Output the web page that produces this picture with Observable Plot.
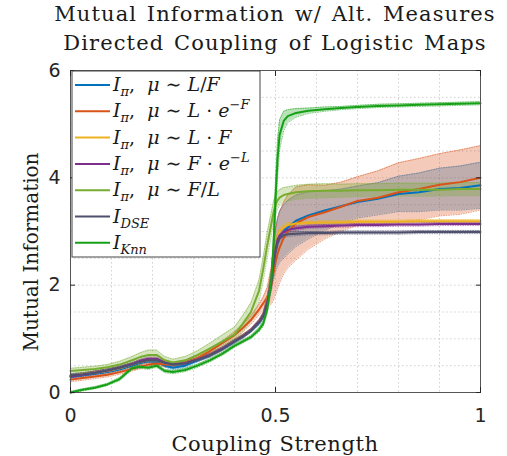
<!DOCTYPE html>
<html><head><meta charset="utf-8">
<script src="https://cdn.jsdelivr.net/npm/d3@7"></script>
<script src="https://cdn.jsdelivr.net/npm/@observablehq/plot@0.6"></script>
<style>
body{margin:0;background:#fff;width:507px;height:456px;overflow:hidden}
#title{height:58px;width:507px;box-sizing:border-box;padding-left:43px;text-align:center;font-family:"DejaVu Serif";font-size:21px;letter-spacing:1.1px;word-spacing:2px;line-height:29px;color:#1a1a1a;white-space:nowrap}
#chart svg{display:block}
</style></head><body>
<div id="title">Mutual Information w/ Alt. Measures<br>Directed Coupling of Logistic Maps</div>
<div id="chart"></div>
<script>
// ---- data ----
const X = [0, 0.03, 0.06, 0.09, 0.12, 0.15, 0.17, 0.19, 0.21, 0.23, 0.25, 0.28, 0.31, 0.34, 0.37, 0.40, 0.42, 0.44, 0.46, 0.47, 0.48, 0.49, 0.495, 0.50, 0.505, 0.51, 0.52, 0.53, 0.55, 0.58, 0.62, 0.66, 0.70, 0.75, 0.80, 0.85, 0.90, 0.95, 1.0];

const blueY = [0.29,0.32,0.35,0.38,0.43,0.50,0.55,0.58,0.57,0.50, 0.46,0.50,0.60,0.69,0.81,0.95,1.04,1.15,1.30,1.42, 1.70,2.10,2.40,2.65,2.80,2.90,3.00,3.08,3.20,3.30, 3.39,3.47,3.55,3.61,3.70,3.73,3.79,3.81,3.86];
const blueSd = [0.03,0.03,0.03,0.03,0.03,0.03,0.03,0.03,0.03,0.03, 0.03,0.03,0.03,0.03,0.03,0.03,0.03,0.03,0.04,0.05, 0.10,0.20,0.30,0.40,0.45,0.48,0.50,0.50,0.48,0.44, 0.37,0.32,0.30,0.30,0.33,0.36,0.39,0.41,0.43];

const orangeY = [0.24,0.27,0.30,0.33,0.38,0.44,0.48,0.52,0.54,0.52, 0.52,0.56,0.64,0.77,0.92,1.07,1.20,1.35,1.55,1.66, 1.78,2.00,2.22,2.42,2.58,2.70,2.88,3.00,3.15,3.27, 3.36,3.46,3.57,3.63,3.73,3.79,3.87,3.92,4.00];
const orangeSd = [0.04,0.04,0.04,0.04,0.04,0.04,0.04,0.04,0.04,0.04, 0.04,0.04,0.04,0.04,0.04,0.06,0.07,0.08,0.10,0.12, 0.18,0.35,0.50,0.60,0.65,0.66,0.67,0.68,0.68,0.60, 0.50,0.46,0.45,0.50,0.55,0.57,0.58,0.60,0.60];

const yellowY = [0.31,0.34,0.37,0.40,0.45,0.52,0.57,0.60,0.60,0.55, 0.53,0.55,0.62,0.70,0.82,0.96,1.05,1.16,1.32,1.44, 1.72,2.12,2.45,2.72,2.90,3.00,3.08,3.12,3.15,3.16, 3.17,3.17,3.18,3.18,3.18,3.19,3.19,3.19,3.19];
const purpleY = [0.30,0.33,0.37,0.41,0.46,0.53,0.59,0.63,0.63,0.56, 0.53,0.55,0.62,0.70,0.82,0.96,1.05,1.16,1.32,1.44, 1.70,2.10,2.40,2.68,2.85,2.93,2.99,3.03,3.06,3.09, 3.10,3.11,3.12,3.12,3.13,3.13,3.14,3.14,3.14];
const dseY = [0.32,0.34,0.37,0.41,0.46,0.52,0.57,0.60,0.60,0.55, 0.52,0.54,0.61,0.69,0.81,0.95,1.04,1.15,1.31,1.42, 1.66,2.05,2.38,2.62,2.78,2.87,2.93,2.95,2.96,2.97, 2.97,2.98,2.98,2.98,2.98,2.99,2.99,2.99,2.99];
const smallSd = [0.03,0.03,0.03,0.03,0.03,0.03,0.03,0.03,0.03,0.03, 0.03,0.03,0.03,0.03,0.03,0.03,0.03,0.03,0.04,0.05, 0.08,0.12,0.15,0.12,0.08,0.06,0.05,0.04,0.04,0.03, 0.03,0.03,0.03,0.03,0.03,0.03,0.03,0.03,0.03];

const flY = [0.40,0.42,0.44,0.47,0.52,0.60,0.66,0.70,0.70,0.60, 0.56,0.60,0.70,0.82,0.95,1.08,1.28,1.50,1.90,2.30, 2.75,3.15,3.35,3.50,3.58,3.63,3.68,3.70,3.73,3.75, 3.76,3.76,3.77,3.77,3.78,3.78,3.78,3.79,3.79];
const flSd = [0.05,0.05,0.05,0.05,0.06,0.07,0.08,0.09,0.09,0.07, 0.06,0.07,0.08,0.10,0.12,0.14,0.15,0.17,0.20,0.22, 0.24,0.22,0.20,0.18,0.16,0.15,0.14,0.13,0.13,0.13, 0.13,0.12,0.12,0.12,0.12,0.12,0.12,0.12,0.12];

const knnY = [0.00,0.05,0.09,0.15,0.25,0.45,0.48,0.46,0.50,0.40, 0.38,0.42,0.50,0.60,0.72,0.87,0.95,1.03,1.17,1.28, 1.55,2.10,2.70,3.60,4.35,4.80,5.06,5.15,5.21,5.25, 5.28,5.30,5.32,5.34,5.35,5.36,5.37,5.38,5.39];
const knnSd = [0.02,0.02,0.02,0.02,0.03,0.03,0.03,0.03,0.03,0.03, 0.03,0.03,0.03,0.03,0.03,0.03,0.03,0.03,0.04,0.05, 0.08,0.15,0.25,0.35,0.35,0.28,0.18,0.12,0.08,0.05, 0.04,0.03,0.03,0.03,0.03,0.03,0.03,0.03,0.03];

const xTicks = [0, 0.5, 1];
const yTicks = [0, 2, 4, 6];
const xGrid = [0.1, 0.2, 0.3, 0.4, 0.5, 0.6, 0.7, 0.8, 0.9];
const yGrid = [0.5, 1, 1.5, 2, 2.5, 3, 3.5, 4, 4.5, 5, 5.5];

const series = [
  {y: blueY,   sd: blueSd,   color: "#0072BD", label: [["I","i"],["π","sub"],[",  ",""],["μ","i"],[" ∼ ",""],["L","i"],["/",""],["F","i"]]},
  {y: orangeY, sd: orangeSd, color: "#D95319", label: [["I","i"],["π","sub"],[",  ",""],["μ","i"],[" ∼ ",""],["L","i"],[" · ",""],["e","i"],["−F","sup"]]},
  {y: yellowY, sd: smallSd,  color: "#EDB120", label: [["I","i"],["π","sub"],[",  ",""],["μ","i"],[" ∼ ",""],["L","i"],[" · ",""],["F","i"]]},
  {y: purpleY, sd: smallSd,  color: "#7E2F8E", label: [["I","i"],["π","sub"],[",  ",""],["μ","i"],[" ∼ ",""],["F","i"],[" · ",""],["e","i"],["−L","sup"]]},
  {y: flY,     sd: flSd,     color: "#77AC30", label: [["I","i"],["π","sub"],[",  ",""],["μ","i"],[" ∼ ",""],["F","i"],["/",""],["L","i"]]},
  {y: dseY,    sd: smallSd,  color: "#4F4F6E", label: [["I","i"],["DSE","sub"]]},
  {y: knnY,    sd: knnSd,    color: "#16A016", label: [["I","i"],["Knn","sub"]]}
];

const rowsOf = s => X.map((x, i) => ({x, y: s.y[i], lo: s.y[i] - s.sd[i], hi: s.y[i] + s.sd[i]}));

const marks = [
  Plot.ruleX(xGrid, {stroke: "#cfcfcf", strokeDasharray: "1.5,2.5"}),
  Plot.ruleY(yGrid, {stroke: "#cfcfcf", strokeDasharray: "1.5,2.5"})
];
for (const s of series) {
  const r = rowsOf(s);
  marks.push(Plot.areaY(r, {x: "x", y1: "lo", y2: "hi", fill: s.color, fillOpacity: 0.3}));
  marks.push(Plot.lineY(r, {x: "x", y: "lo", stroke: s.color, strokeOpacity: 0.55, strokeWidth: 1, strokeDasharray: "1,1.5"}));
  marks.push(Plot.lineY(r, {x: "x", y: "hi", stroke: s.color, strokeOpacity: 0.55, strokeWidth: 1, strokeDasharray: "1,1.5"}));
}
for (const s of series) {
  marks.push(Plot.lineY(rowsOf(s), {x: "x", y: "y", stroke: s.color, strokeWidth: 2}));
}
const axisStyle = {fontSize: 19, fontFamily: "DejaVu Sans", color: "#262626", label: null};
marks.push(
  Plot.frame({stroke: "#555"}),
  Plot.axisX(xTicks, {...axisStyle, anchor: "bottom", tickSize: -5, tickPadding: 21, tickFormat: d => String(d)}),
  Plot.axisX(xTicks, {...axisStyle, anchor: "top", tickSize: -5, tickFormat: () => ""}),
  Plot.axisY(yTicks, {...axisStyle, anchor: "left", tickSize: -5, tickPadding: 15, tickFormat: d => String(d)}),
  Plot.axisY(yTicks, {...axisStyle, anchor: "right", tickSize: -5, tickFormat: () => ""})
);

const svg = Plot.plot({
  width: 507, height: 398,
  marginTop: 12, marginRight: 27, marginBottom: 64, marginLeft: 70,
  x: {domain: [0, 1]},
  y: {domain: [0, 6]},
  style: {background: "#fff", overflow: "visible"},
  marks
});
document.getElementById("chart").appendChild(svg);

// ---- labels & legend ----
const s = d3.select(svg);
s.append("text").attr("x", 275).attr("y", 393).attr("text-anchor", "middle")
  .attr("font-family", "DejaVu Serif").attr("font-size", 21).attr("letter-spacing", 0.6).attr("fill", "#1a1a1a").text("Coupling Strength");
s.append("text").attr("transform", "translate(38,194) rotate(-90)").attr("text-anchor", "middle")
  .attr("font-family", "DejaVu Serif").attr("font-size", 20).attr("fill", "#1a1a1a").text("Mutual Information");

const lg = s.append("g").attr("text-anchor", "start");
lg.append("rect").attr("x", 72).attr("y", 13).attr("width", 188).attr("height", 186)
  .attr("fill", "#fff").attr("stroke", "#444").attr("stroke-width", 1);
series.forEach((d, i) => {
  const cy = 27 + i * 26.3;
  lg.append("line").attr("x1", 75).attr("x2", 110).attr("y1", cy).attr("y2", cy)
    .attr("stroke", d.color).attr("stroke-width", 2);
  const t = lg.append("text").attr("x", 113).attr("y", cy + 6).attr("text-anchor", "start")
    .attr("font-family", "DejaVu Serif").attr("font-size", 19).attr("fill", "#1a1a1a");
  let shift = 0;
  for (const [txt, kind] of d.label) {
    const sp = t.append("tspan").text(txt);
    let target = 0;
    if (kind === "i") sp.attr("font-style", "italic");
    if (kind === "sub") { sp.attr("font-style", "italic").attr("font-size", 13); target = 5; }
    if (kind === "sup") { sp.attr("font-style", "italic").attr("font-size", 13); target = -8; }
    if (target !== shift) { sp.attr("dy", target - shift); shift = target; }
  }
});
</script></body></html>
